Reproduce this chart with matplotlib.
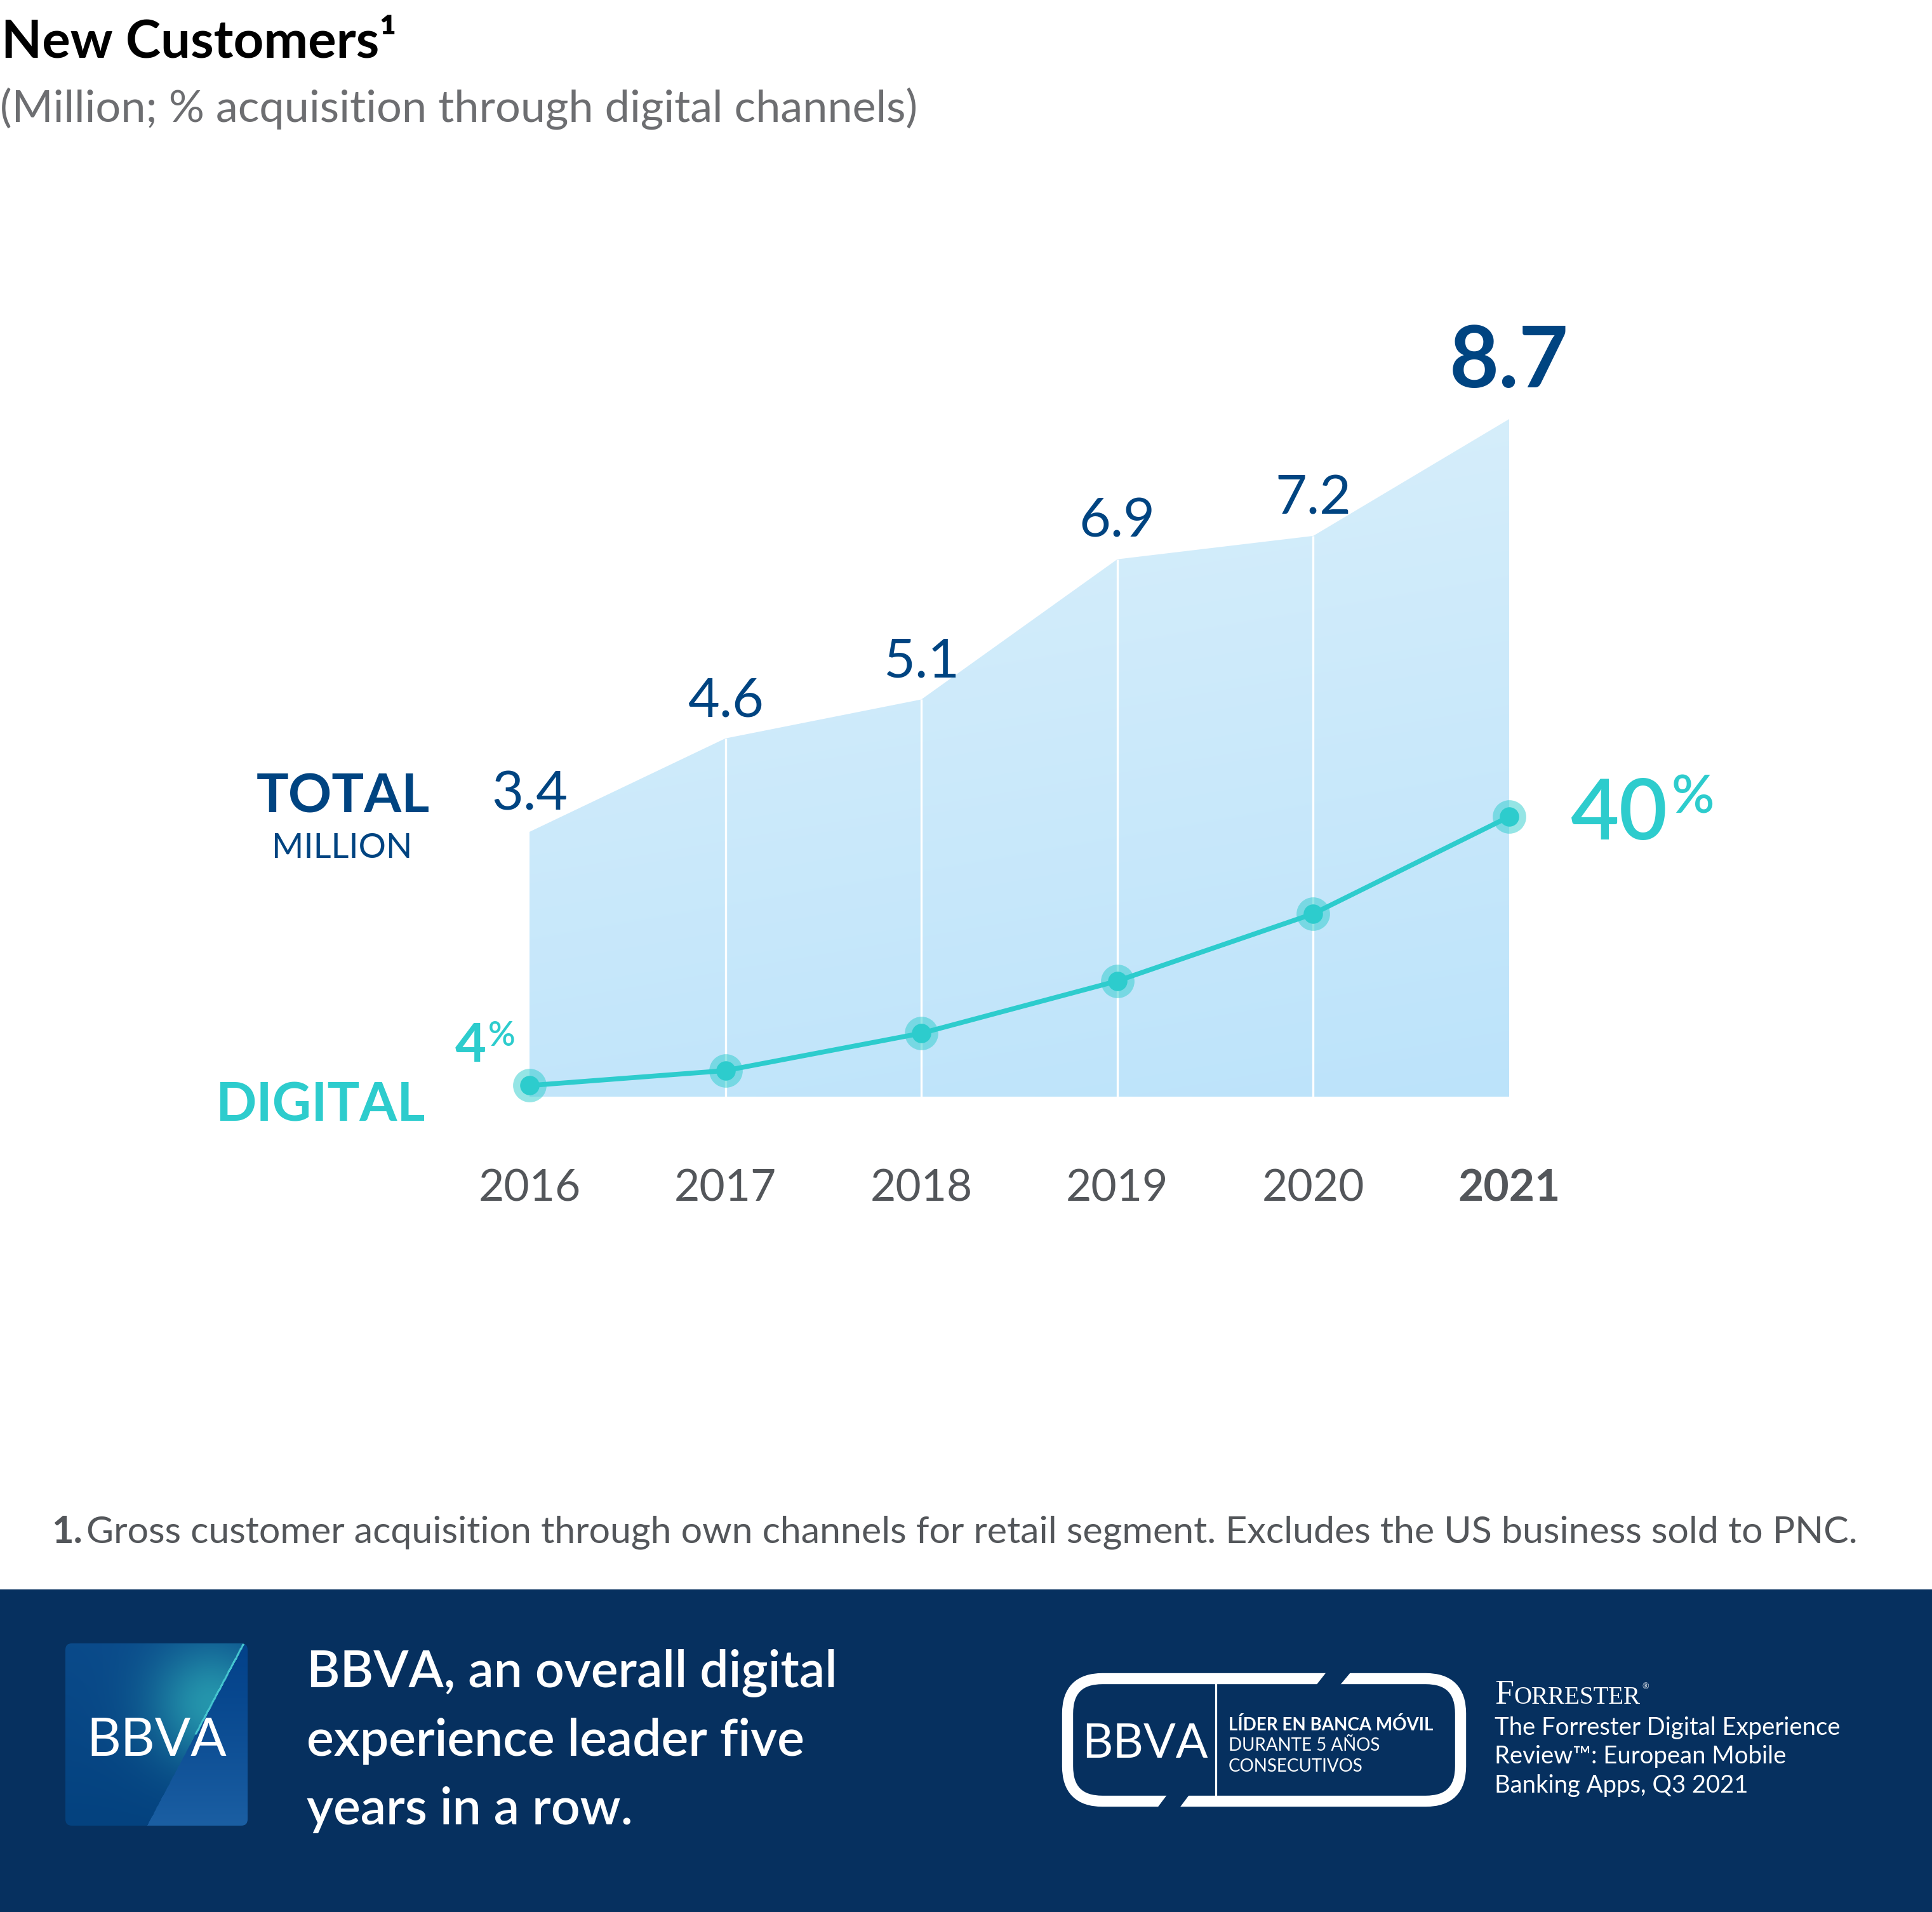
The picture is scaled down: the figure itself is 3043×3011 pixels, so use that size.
import numpy as np
import matplotlib
matplotlib.use("Agg")
import matplotlib.pyplot as plt
from matplotlib.patches import Rectangle, FancyBboxPatch, Polygon
from matplotlib.colors import to_rgb

# ---------------- data ----------------
years = [2016, 2017, 2018, 2019, 2020, 2021]
year_labels = ["2016", "2017", "2018", "2019", "2020", "2021"]
total_customers = [3.4, 4.6, 5.1, 6.9, 7.2, 8.7]      # million
digital_share = [4, 6, 11, 18, 27, 40]                # % acquisition through digital channels

title = "New Customers\u00b9"
subtitle = "(Million; % acquisition through digital channels)"
footnote_num = "1."
footnote = ("Gross customer acquisition through own channels for retail segment. "
            "Excludes the US business sold to PNC.")
headline = ["BBVA, an overall digital", "experience leader five", "years in a row."]
badge_lines = ["L\u00cdDER EN BANCA M\u00d3VIL", "DURANTE 5 A\u00d1OS", "CONSECUTIVOS"]
forrester_lines = ["The Forrester Digital Experience",
                   "Review\u2122: European Mobile",
                   "Banking Apps, Q3 2021"]

# ---------------- style ----------------
W, H, DPI = 3043, 3011, 100
BLUE = "#004481"
TEAL = "#2dcccd"
GREY = "#53565a"
NAVY = "#06305f"

plt.rcParams['font.family'] = ['Lato', 'DejaVu Sans']

fig = plt.figure(figsize=(W / DPI, H / DPI), dpi=DPI)
fig.patch.set_facecolor("white")

# background axes in pixel coordinates (y downward)
bg = fig.add_axes([0, 0, 1, 1])
bg.set_xlim(0, W)
bg.set_ylim(H, 0)
bg.axis('off')

# ---------------- titles ----------------
bg.text(2, 91, title, fontsize=60, fontweight='bold', color='black', ha='left', va='baseline')
bg.text(0, 192, subtitle, fontsize=50.5, fontweight='normal', color='#6d6e71', ha='left', va='baseline')

# ---------------- chart axes ----------------
L, R, B, T = 700, 2500, 1727, 400
ax = fig.add_axes([L / W, 1 - B / H, (R - L) / W, (B - T) / H])
ax.patch.set_alpha(0)
px_per_year = (2377 - 834) / 5
ppu = 122.65           # pixels per million
ppp = 11.76            # pixels per percentage point
x0 = years[0] - (834 - L) / px_per_year
x1 = years[-1] + (R - 2377) / px_per_year

# gradient filled area
poly = ax.fill_between(years, 0, total_customers, facecolor='none', edgecolor='none')
gx = np.linspace(0, 1, 300)
gy = np.linspace(0, 1, 300)
X, Y = np.meshgrid(gx, gy)
t = np.clip(0.8 * Y + 0.2 * (1 - X), 0, 1)
c_light = np.array(to_rgb('#dbf0fa'))
c_dark = np.array(to_rgb('#bce3fb'))
img = c_dark + (c_light - c_dark) * t[..., None]
im = ax.imshow(img, extent=[years[0], years[-1], 0, max(total_customers)],
               origin='lower', aspect='auto', zorder=1, interpolation='bilinear')
im.set_clip_path(poly.get_paths()[0], ax.transData)
ax.vlines(years[1:-1], 0, total_customers[1:-1], colors='white', lw=2.4, zorder=2)

ax.set_xlim(x0, x1)
ax.set_ylim(0, (B - T) / ppu)
for s in ax.spines.values():
    s.set_visible(False)
ax.set_yticks([])
ax.set_xticks(years)
ax.set_xticklabels(year_labels)
ax.tick_params(axis='x', length=0, pad=82, labelsize=50, labelcolor=GREY)
ax.get_xticklabels()[-1].set_fontweight('bold')

# value labels
for i, (x, v) in enumerate(zip(years, total_customers)):
    last = i == len(years) - 1
    ax.annotate(f"{v:.1f}", (x, v), xytext=(0, 36 if last else 25), textcoords='offset points',
                ha='center', va='baseline', fontsize=97 if last else 62,
                fontweight='bold' if last else 'normal', color=BLUE, annotation_clip=False)

# digital share line
ax2 = ax.twinx()
base_pct = 2.51
ax2.set_ylim(base_pct, base_pct + (B - T) / ppp)
ax2.axis('off')
ax2.plot(years, digital_share, color=TEAL, lw=5.5, zorder=3, solid_capstyle='round', clip_on=False)
ax2.plot(years, digital_share, 'o', ms=38, color=TEAL, alpha=0.5, mec='none', zorder=4, clip_on=False)
ax2.plot(years, digital_share, 'o', ms=22, color=TEAL, mec='none', zorder=5, clip_on=False)

# first / last percentage labels
ax2.annotate(f"{digital_share[0]}", (years[0], digital_share[0]), xytext=(-49, 27),
             textcoords='offset points', ha='right', va='baseline', fontsize=61,
             fontweight='bold', color=TEAL, annotation_clip=False)
ax2.annotate("%", (years[0], digital_share[0]), xytext=(-47, 45),
             textcoords='offset points', ha='left', va='baseline', fontsize=38,
             fontweight='semibold', color=TEAL, annotation_clip=False)
ax2.annotate(f"{digital_share[-1]}", (years[-1], digital_share[-1]), xytext=(70, -26),
             textcoords='offset points', ha='left', va='baseline', fontsize=95,
             fontweight='semibold', color=TEAL, annotation_clip=False)
ax2.annotate("%", (years[-1], digital_share[-1]), xytext=(184, 4),
             textcoords='offset points', ha='left', va='baseline', fontsize=60,
             fontweight='semibold', color=TEAL, annotation_clip=False)

# series labels
bg.text(540, 1279, "TOTAL", fontsize=61, fontweight='bold', color=BLUE, ha='center', va='baseline')
bg.text(539, 1351, "MILLION", fontsize=39, fontweight='normal', color=BLUE, ha='center', va='baseline')
bg.text(669, 1765, "DIGITAL", fontsize=61, fontweight='bold', color=TEAL, ha='right', va='baseline')

# ---------------- footnote ----------------
bg.text(81, 2430, footnote_num, fontsize=43, fontweight='bold', color=GREY, ha='left', va='baseline')
bg.text(136, 2430, footnote, fontsize=42.6, fontweight='normal', color=GREY, ha='left', va='baseline')

# ---------------- footer band ----------------
bg.add_patch(Rectangle((0, 2503), W, H - 2503, facecolor=NAVY, edgecolor='none', zorder=0))

# BBVA logo square
N = 300
u, v = np.meshgrid(np.linspace(0, 1, N), np.linspace(0, 1, N))
u_line = 0.98 - 0.53 * v
right = u > u_line
base = np.array(to_rgb('#0a4a8a'))
dark = np.array(to_rgb('#04427f'))
teal = np.array(to_rgb('#2aa3b3'))
left_col = base + (dark - base) * np.clip(v, 0, 1)[..., None]
d = np.sqrt((u - 0.80) ** 2 + (v - 0.33) ** 2)
glow = np.exp(-(d / 0.33) ** 2)[..., None] * 0.85
left_col = left_col * (1 - glow) + teal * glow
r_top = np.array(to_rgb('#03428a'))
r_bot = np.array(to_rgb('#1b5fa3'))
right_col = r_top + (r_bot - r_top) * np.clip(v ** 1.3, 0, 1)[..., None]
logo = np.where(right[..., None], right_col, left_col)
edge = np.abs(u - u_line) < 0.006
logo[edge & (v < 0.5)] = to_rgb('#46c6d0')
lx0, lx1, ly0, ly1 = 103, 390, 2588, 2875
logo_im = bg.imshow(logo, extent=[lx0, lx1, ly1, ly0], origin='upper', aspect='auto', zorder=1)
logo_box = FancyBboxPatch((lx0, ly0), lx1 - lx0, ly1 - ly0,
                          boxstyle="round,pad=0,rounding_size=10",
                          facecolor='none', edgecolor='none', transform=bg.transData)
bg.add_patch(logo_box)
logo_im.set_clip_path(logo_box)
bg.text(247, 2765, "BBVA", fontsize=60, color='white', ha='center', va='baseline', zorder=3)

# headline
for i, line in enumerate(headline):
    bg.text(483, 2657 + i * 108, line, fontsize=58, fontweight='semibold', color='white',
            ha='left', va='baseline', zorder=3)

# badge
badge = FancyBboxPatch((1681.5, 2643.5), 2300.5 - 1681.5, 2836.5 - 2643.5,
                       boxstyle="round,pad=0,rounding_size=55",
                       facecolor='none', edgecolor='white', lw=12.5, zorder=2)
bg.add_patch(badge)
bg.add_patch(Polygon([(2098, 2622), (2137, 2622), (2102, 2664), (2065, 2664)],
                     closed=True, facecolor=NAVY, edgecolor='none', zorder=3))
bg.add_patch(Polygon([(1843, 2820), (1878, 2820), (1851, 2856), (1816, 2856)],
                     closed=True, facecolor=NAVY, edgecolor='none', zorder=3))
bg.plot([1915, 1915], [2652, 2827], color='white', lw=2.3, zorder=3)
bg.text(1803, 2768, "BBVA", fontsize=54, color='white', ha='center', va='baseline', zorder=4)
bg.text(1935, 2725, badge_lines[0], fontsize=20, fontweight='bold', color='white',
        ha='left', va='baseline', zorder=4)
bg.text(1935, 2757, badge_lines[1], fontsize=20, fontweight='normal', color='white',
        ha='left', va='baseline', zorder=4)
bg.text(1935, 2790, badge_lines[2], fontsize=20, fontweight='normal', color='white',
        ha='left', va='baseline', zorder=4)

# Forrester
bg.text(2354, 2683, "F", fontsize=39, family=['Liberation Serif'], color='white',
        ha='left', va='baseline', zorder=4)
bg.text(2384, 2683, "ORRESTER", fontsize=28, family=['Liberation Serif'], color='white',
        ha='left', va='baseline', zorder=4)
bg.text(2586, 2660, "\u00ae", fontsize=10, family=['Liberation Serif'], color='white',
        ha='left', va='baseline', zorder=4)
for i, line in enumerate(forrester_lines):
    bg.text(2354, 2732 + i * 45.5, line, fontsize=27.5, fontweight='normal', color='white',
            ha='left', va='baseline', zorder=4)

fig.savefig("out.png", dpi=DPI)
